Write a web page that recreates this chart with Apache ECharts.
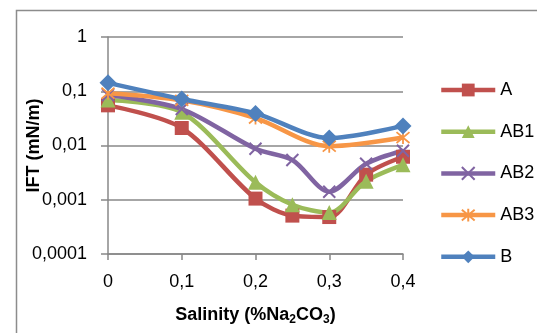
<!DOCTYPE html>
<html>
<head>
<meta charset="utf-8">
<script src="https://cdn.jsdelivr.net/npm/echarts@6/dist/echarts.min.js"></script>
<style>
  html, body { margin: 0; padding: 0; background: #fff; }
  #chart { width: 537px; height: 333px; }
</style>
</head>
<body>
<div id="chart"></div>
<script>
// salinity points (%Na2CO3)
const xFull = [0, 0.1, 0.2, 0.25, 0.3, 0.35, 0.4]
const xShort = [0, 0.1, 0.2, 0.3, 0.4]

// IFT values (mN/m)
const valA = [0.055, 0.021, 0.00105, 0.00051, 0.00048, 0.0029, 0.0062]
const valAB1 = [0.069, 0.041, 0.0021, 0.00081, 0.00058, 0.0022, 0.0044]
const valAB2 = [0.085, 0.047, 0.0087, 0.0054, 0.0014, 0.0046, 0.008]
const valAB3 = [0.092, 0.068, 0.032, 0.0097, 0.014]
const valB = [0.143, 0.072, 0.039, 0.0137, 0.023]

const xTicks = [0, 0.1, 0.2, 0.3, 0.4]
const yTicks = [0.0001, 0.001, 0.01, 0.1, 1]

const font = 'Liberation Sans'
const pair = (xs, ys) => xs.map((x, i) => [x, ys[i]])
const comma = v => String(v).replace('.', ',')

const crossPath = 'path://M0,0L10,10M10,0L0,10'
const starPath = 'path://M0,0L10,10M10,0L0,10M5,-1L5,11'

const mk = (name, color, data, symbol, size, stroke) => ({
  name: name,
  type: 'line',
  data: data,
  smooth: 0.3,
  symbol: symbol,
  symbolSize: size,
  showAllSymbol: true,
  lineStyle: { color: color, width: 4.5 },
  itemStyle: { color: color, borderColor: color, borderWidth: stroke },
  emphasis: { disabled: true }
})

const chart = echarts.init(document.getElementById('chart'))
chart.setOption({
  animation: false,
  textStyle: { fontFamily: font },
  graphic: [{
    type: 'rect',
    left: 14, top: 8,
    shape: { width: 700, height: 500 },
    style: { fill: 'none', stroke: '#8c8c8c', lineWidth: 1.5 },
    silent: true
  }],
  grid: { left: 108, right: 134, top: 37, bottom: 79, outerBoundsMode: 'none', containLabel: false },
  legend: {
    orient: 'vertical',
    left: 439, top: 81,
    padding: 0,
    itemWidth: 54, itemHeight: 16, itemGap: 23.7,
    lineStyle: { width: 4.5 },
    textStyle: { fontFamily: font, fontSize: 18, color: '#000' },
    data: ['A', 'AB1', 'AB2', 'AB3', 'B']
  },
  xAxis: {
    type: 'value',
    min: 0, max: 0.4, interval: 0.1,
    name: '{b|Salinity (%Na}{s|2}{b|CO}{s|3}{b|)}',
    nameLocation: 'middle', nameGap: 50,
    nameMoveOverlap: false,
    nameTextStyle: {
      rich: {
        b: { fontFamily: font, fontSize: 18, fontWeight: 'bold', color: '#000' },
        s: { fontFamily: font, fontSize: 12, fontWeight: 'bold', color: '#000', padding: [10, 0, 0, 0] }
      }
    },
    axisLine: { onZero: false, lineStyle: { color: '#888', width: 1.5 } },
    axisTick: { show: true, length: 6, lineStyle: { color: '#888', width: 1.5 } },
    axisLabel: { fontFamily: font, fontSize: 18, color: '#000', margin: 19, formatter: v => comma(v) },
    splitLine: { show: false }
  },
  yAxis: {
    type: 'log',
    logBase: 10,
    min: yTicks[0], max: yTicks[yTicks.length - 1],
    name: 'IFT (mN/m)',
    nameLocation: 'middle', nameGap: 65,
    nameMoveOverlap: false,
    nameTextStyle: { fontFamily: font, fontSize: 18, fontWeight: 'bold', color: '#000' },
    axisLine: { show: true, lineStyle: { color: '#888', width: 1.5 } },
    axisTick: { show: true, length: 7, lineStyle: { color: '#888', width: 1.5 } },
    axisLabel: { fontFamily: font, fontSize: 18, color: '#000', margin: 21,
      formatter: v => comma(yTicks.find(t => Math.abs(Math.log10(t) - Math.log10(v)) < 1e-6) ?? v) },
    splitLine: { show: true, lineStyle: { color: '#888', width: 1.5 } }
  },
  series: [
    mk('A', '#C0504D', pair(xFull, valA), 'rect', 14, 0),
    mk('AB1', '#9BBB59', pair(xFull, valAB1), 'triangle', 15, 0),
    mk('AB2', '#8064A2', pair(xFull, valAB2), crossPath, 12, 2),
    mk('AB3', '#F79646', pair(xShort, valAB3), starPath, 13, 1.8),
    mk('B', '#4F81BD', pair(xShort, valB), 'diamond', 17, 0)
  ]
})
</script>
</body>
</html>
